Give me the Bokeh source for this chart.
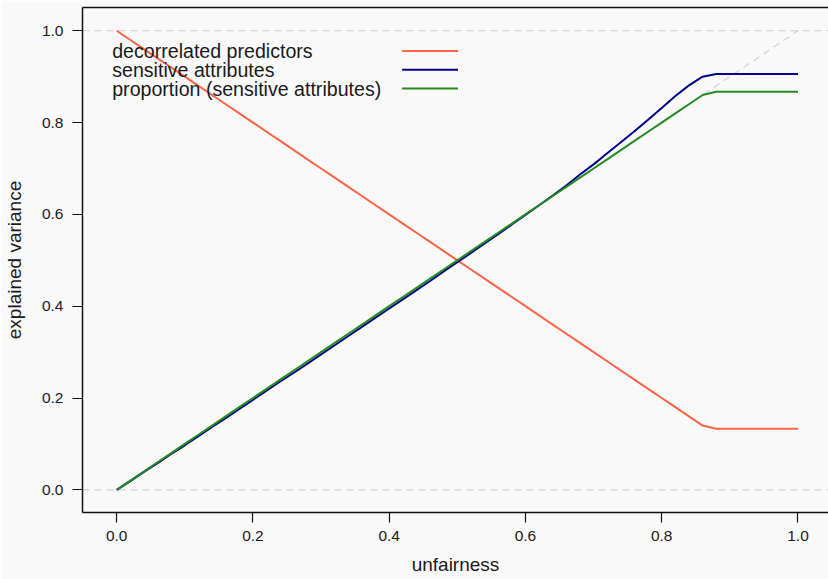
from bokeh.plotting import figure
from bokeh.models import LinearAxis, Range1d, FixedTicker, PrintfTickFormatter
from bokeh.core.properties import value
from bokeh.embed import file_html
from bokeh.resources import INLINE

# ---- data ----
unfairness = [0.00, 0.02, 0.04, 0.06, 0.08, 0.10, 0.12, 0.14, 0.16, 0.18,
              0.20, 0.22, 0.24, 0.26, 0.28, 0.30, 0.32, 0.34, 0.36, 0.38,
              0.40, 0.42, 0.44, 0.46, 0.48, 0.50, 0.52, 0.54, 0.56, 0.58,
              0.60, 0.62, 0.64, 0.66, 0.68, 0.70, 0.72, 0.74, 0.76, 0.78,
              0.80, 0.82, 0.84, 0.86, 0.88, 0.90, 0.92, 0.94, 0.96, 0.98, 1.00]

decorrelated_predictors = [1.00, 0.98, 0.96, 0.94, 0.92, 0.90, 0.88, 0.86, 0.84, 0.82,
                           0.80, 0.78, 0.76, 0.74, 0.72, 0.70, 0.68, 0.66, 0.64, 0.62,
                           0.60, 0.58, 0.56, 0.54, 0.52, 0.50, 0.48, 0.46, 0.44, 0.42,
                           0.40, 0.38, 0.36, 0.34, 0.32, 0.30, 0.28, 0.26, 0.24, 0.22,
                           0.20, 0.18, 0.16, 0.14, 0.133, 0.133, 0.133, 0.133, 0.133, 0.133, 0.133]

sensitive_attributes = [0.000, 0.019, 0.039, 0.058, 0.078, 0.097, 0.117, 0.137, 0.156, 0.176,
                        0.196, 0.216, 0.236, 0.255, 0.275, 0.295, 0.315, 0.335, 0.355, 0.375,
                        0.395, 0.415, 0.435, 0.455, 0.476, 0.496, 0.516, 0.537, 0.557, 0.578,
                        0.599, 0.620, 0.641, 0.663, 0.687, 0.709, 0.733, 0.757, 0.781, 0.806,
                        0.832, 0.858, 0.881, 0.900, 0.906, 0.906, 0.906, 0.906, 0.906, 0.906, 0.906]

proportion_sensitive = [0.00, 0.02, 0.04, 0.06, 0.08, 0.10, 0.12, 0.14, 0.16, 0.18,
                        0.20, 0.22, 0.24, 0.26, 0.28, 0.30, 0.32, 0.34, 0.36, 0.38,
                        0.40, 0.42, 0.44, 0.46, 0.48, 0.50, 0.52, 0.54, 0.56, 0.58,
                        0.60, 0.62, 0.64, 0.66, 0.68, 0.70, 0.72, 0.74, 0.76, 0.78,
                        0.80, 0.82, 0.84, 0.86, 0.867, 0.867, 0.867, 0.867, 0.867, 0.867, 0.867]

series_names = ["decorrelated predictors", "sensitive attributes",
                "proportion (sensitive attributes)"]
series_colors = ["#ff6347", "#00008b", "#228b22"]

x_ticks = [0.0, 0.2, 0.4, 0.6, 0.8, 1.0]
y_ticks = [0.0, 0.2, 0.4, 0.6, 0.8, 1.0]

# reference lines
ref_x = [0.0, 1.0]
ref_y = [0.0, 1.0]

BG = "#f9f9f9"
FONT = "Liberation Sans"

p = figure(width=828, height=579, output_backend="svg", toolbar_location=None,
           x_range=Range1d(-0.0502, 1.0448), y_range=Range1d(-0.0494, 1.0507),
           x_axis_label="unfairness", y_axis_label="explained variance",
           min_border_left=82, min_border_right=0, min_border_top=7,
           min_border_bottom=67)
p.background_fill_color = BG
p.border_fill_color = BG
p.outline_line_color = None
p.grid.visible = False

for ax, ticks in ((p.xaxis[0], x_ticks), (p.yaxis[0], y_ticks)):
    ax.ticker = FixedTicker(ticks=ticks)
    ax.formatter = PrintfTickFormatter(format="%.1f")
    ax.minor_tick_line_color = None
    ax.major_tick_in = 0
    ax.major_tick_out = 10
    ax.major_tick_line_width = 1.2
    ax.major_tick_line_color = "#111111"
    ax.axis_line_color = "#111111"
    ax.axis_line_width = 1.5
    ax.major_label_text_font = FONT
    ax.major_label_text_font_size = "15.5px"
    ax.major_label_text_color = "#1a1a1a"
    ax.axis_label_text_font = FONT
    ax.axis_label_text_font_size = "19px"
    ax.axis_label_text_font_style = "normal"
    ax.axis_label_text_color = "#1a1a1a"

p.xaxis[0].major_label_standoff = 8
p.xaxis[0].axis_label_standoff = 10
p.yaxis[0].major_label_standoff = 9
p.yaxis[0].axis_label_standoff = 14

top = LinearAxis(ticker=FixedTicker(ticks=[]), axis_line_color="#111111",
                 axis_line_width=1.5, major_tick_out=0, major_tick_in=0,
                 minor_tick_line_color=None, major_label_text_font_size="0px")
p.add_layout(top, "above")

# dashed reference lines
dash_col = "#d0d0d0"
p.line(ref_x, ref_y, line_color=dash_col, line_dash="7 5", line_width=1.2)
p.line([-0.0502, 1.0448], [0.0, 0.0], line_color=dash_col, line_dash="7 5", line_width=1.2)
p.line([-0.0502, 1.0448], [1.0, 1.0], line_color=dash_col, line_dash="7 5", line_width=1.2)

for ys, col in zip([decorrelated_predictors, sensitive_attributes, proportion_sensitive],
                   series_colors):
    p.line(unfairness, ys, line_color=col, line_width=2)

# legend (text left, line sample right)
leg_y = [0.956, 0.915, 0.874]
p.text(x=[-0.0066] * 3, y=leg_y, text=series_names, text_font=value(FONT),
       text_font_size="19.6px", text_baseline="middle", text_align="left",
       text_color="#1a1a1a")
p.segment(x0=[0.419] * 3, y0=leg_y, x1=[0.501] * 3, y1=leg_y,
          line_color=series_colors, line_width=2)

open("out.html", "w").write(file_html(p, INLINE))
